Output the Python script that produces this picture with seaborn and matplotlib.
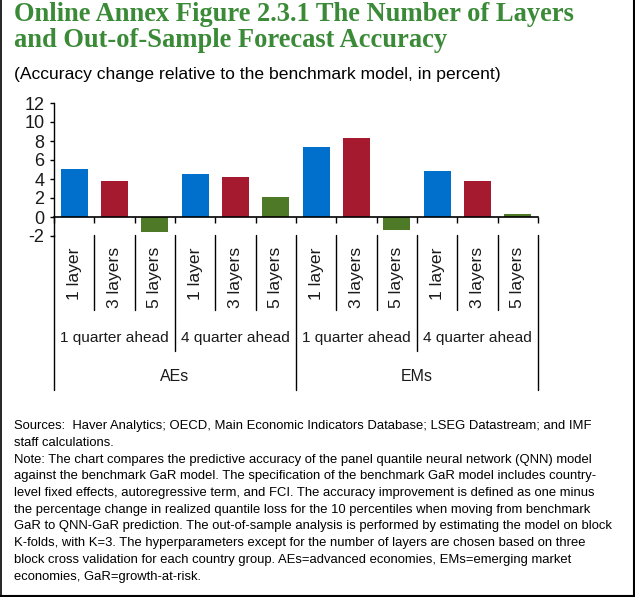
import matplotlib
matplotlib.use("Agg")
import matplotlib.pyplot as plt
import matplotlib.transforms as mtransforms
from matplotlib.lines import Line2D
import seaborn as sns
import pandas as pd

# ---------------- data ----------------
countries = ["AEs", "EMs"]
horizons = ["1 quarter ahead", "4 quarter ahead"]
layers = ["1 layer", "3 layers", "5 layers"]
values_AEs = [5.1, 3.8, -1.6, 4.5, 4.25, 2.1]
values_EMs = [7.4, 8.3, -1.4, 4.8, 3.8, 0.35]
layer_colors = ["#0070CC", "#A51A2F", "#4E7A27"]
y_ticks = [-2, 0, 2, 4, 6, 8, 10, 12]

title_lines = ["Online Annex Figure 2.3.1 The Number of Layers",
               "and Out-of-Sample Forecast Accuracy"]
subtitle = "(Accuracy change relative to the benchmark model, in percent)"
notes = [
    "Sources:  Haver Analytics; OECD, Main Economic Indicators Database; LSEG Datastream; and IMF",
    "staff calculations.",
    "Note: The chart compares the predictive accuracy of the panel quantile neural network (QNN) model",
    "against the benchmark GaR model. The specification of the benchmark GaR model includes country-",
    "level fixed effects, autoregressive term, and FCI. The accuracy improvement is defined as one minus",
    "the percentage change in realized quantile loss for the 10 percentiles when moving from benchmark",
    "GaR to QNN-GaR prediction. The out-of-sample analysis is performed by estimating the model on block",
    "K-folds, with K=3. The hyperparameters except for the number of layers are chosen based on three",
    "block cross validation for each country group. AEs=advanced economies, EMs=emerging market",
    "economies, GaR=growth-at-risk.",
]

rows = []
all_vals = {"AEs": values_AEs, "EMs": values_EMs}
for c in countries:
    i = 0
    for h in horizons:
        for l in layers:
            rows.append({"country": c, "horizon": h, "layers": l,
                         "key": f"{c}|{h}|{l}", "value": all_vals[c][i]})
            i += 1
df = pd.DataFrame(rows)

# ---------------- figure ----------------
sns.set_theme(style="white")
plt.rcParams["font.family"] = ["Liberation Sans", "DejaVu Sans"]
TXT = "#1a1a1a"

W, H = 635, 597
fig = plt.figure(figsize=(W / 100, H / 100), dpi=100)
fig.patch.set_facecolor("white")

def fy(py):
    return 1 - py / H

def fx(px):
    return px / W

ax = fig.add_axes([fx(54), fy(236), 484 / W, 133 / H])
sns.barplot(data=df, x="key", y="value", hue="layers", hue_order=layers,
            palette=layer_colors, dodge=False, width=0.67, legend=False,
            ax=ax, saturation=1, edgecolor="none")
n = len(df)
ax.set_xlim(-0.5, n - 0.5)
ax.set_ylim(-2, 12)
ax.set_yticks(y_ticks)
ax.set_yticklabels([str(t) for t in y_ticks], fontsize=13, color=TXT)
ax.set_xlabel("")
ax.set_ylabel("")
for s in ["top", "right"]:
    ax.spines[s].set_visible(False)
ax.spines["left"].set_color("black")
ax.spines["left"].set_linewidth(1.0)
ax.spines["bottom"].set_position(("data", 0))
ax.spines["bottom"].set_color("black")
ax.spines["bottom"].set_linewidth(1.2)
ax.set_xticks([k - 0.5 for k in range(n + 1)])
ax.set_xticklabels([])
ax.tick_params(axis="x", direction="out", length=4.3, width=1.0, color="black", bottom=True)
ax.tick_params(axis="y", direction="out", length=3.0, width=1.0, color="black", pad=4, left=True)
ax.grid(False)

bt = mtransforms.blended_transform_factory(ax.transData, fig.transFigure)

# separators in the category label area
for k in range(n + 1):
    b = k - 0.5
    if k % 6 == 0:
        y_end = 390
    elif k % 3 == 0:
        y_end = 351
    else:
        y_end = 310
    fig.add_artist(Line2D([b, b], [fy(235), fy(y_end)], transform=bt,
                          color="black", lw=1.0, clip_on=False))

# layer labels
for k, row in df.iterrows():
    fig.text(k, fy(247), row["layers"], transform=bt, rotation=90,
             ha="center", va="top", fontsize=12.6, color=TXT)
# horizon labels
for j in range(len(countries) * len(horizons)):
    fig.text(3 * j + 1, fy(341.7), horizons[j % 2], transform=bt,
             ha="center", va="baseline", fontsize=11.1, color=TXT)
# country labels
for j, c in enumerate(countries):
    fig.text(6 * j + 2.5, fy(381), c, transform=bt,
             ha="center", va="baseline", fontsize=11.5, color=TXT)

# title & subtitle
GREEN = "#3B8A37"
for i, line in enumerate(title_lines):
    fig.text(fx(14), fy(20.7 + 26 * i), line, ha="left", va="baseline",
             fontsize=19.1, fontweight="bold", color=GREEN,
             family=["Liberation Serif", "DejaVu Serif"])
fig.text(fx(14), fy(79), subtitle, ha="left", va="baseline",
         fontsize=12.6, color="black")

# notes
for i, line in enumerate(notes):
    fig.text(fx(14), fy(429.3 + 16.7 * i), line, ha="left", va="baseline",
             fontsize=9.4, color="black")

# frame lines (left, right, bottom)
fig.add_artist(Line2D([fx(0.8), fx(0.8)], [0, 1], transform=fig.transFigure,
                      color="black", lw=1.2))
fig.add_artist(Line2D([fx(633.8), fx(633.8)], [0, 1], transform=fig.transFigure,
                      color="black", lw=1.5))
fig.add_artist(Line2D([0, 1], [fy(595.8), fy(595.8)], transform=fig.transFigure,
                      color="black", lw=1.5))

fig.savefig("out.png", dpi=100, facecolor="white")
